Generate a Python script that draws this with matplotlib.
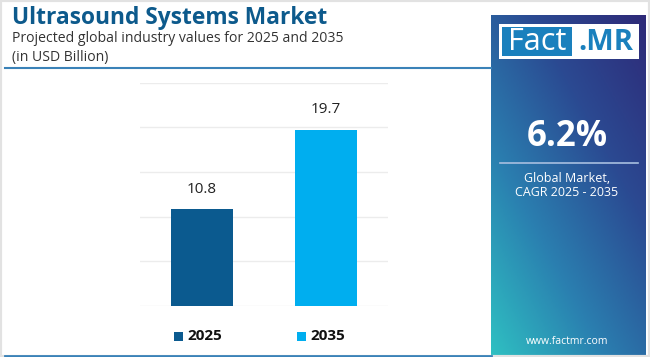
import matplotlib
matplotlib.use("Agg")
import matplotlib.pyplot as plt
import numpy as np
from matplotlib.colors import LinearSegmentedColormap
from matplotlib.patches import Rectangle

# ---- data ----
years = ["2025", "2035"]
values = [10.8, 19.7]
bar_colors = ["#0b5a8f", "#00aeef"]
yticks = [0, 5, 10, 15, 20, 25]
title = "Ultrasound Systems Market"
subtitle1 = "Projected global industry values for 2025 and 2035"
subtitle2 = "(in USD Billion)"
cagr = "6.2%"
cagr_label = ["Global Market,", "CAGR 2025 - 2035"]
website = "www.factmr.com"

W, H = 650, 357
fig = plt.figure(figsize=(W / 100, H / 100), dpi=100)
fig.patch.set_facecolor("white")
FONT = "Open Sans"

def fx(px):
    return px / W

def fy(py):
    return 1 - py / H

# outer light frame
fig.add_artist(Rectangle((0, 0), 1, 1, transform=fig.transFigure, fill=False,
                         edgecolor="#e2e2e2", linewidth=3))

# title
fig.text(fx(12), fy(18), title, fontsize=16.4, fontweight="bold", color="#0d5a8c",
         family=FONT, va="center", ha="left")
fig.text(fx(12), fy(38), subtitle1, fontsize=10.1, color="#333333", family=FONT,
         va="center", ha="left")
fig.text(fx(12), fy(57), subtitle2, fontsize=10.1, color="#333333", family=FONT,
         va="center", ha="left")
# title divider
fig.add_artist(plt.Line2D([fx(5), fx(491)], [fy(68), fy(68)], transform=fig.transFigure,
                          color="#3a82b8", linewidth=1.5))
# bottom line
fig.add_artist(plt.Line2D([fx(5), fx(491)], [fy(355.5), fy(355.5)], transform=fig.transFigure,
                          color="#3a82b8", linewidth=2))

# bar chart
ax = fig.add_axes([fx(140), fy(306), fx(388) - fx(140), fy(82.5) - fy(306)])
x = np.arange(len(years))
ax.bar(x, values, width=0.5, color=bar_colors, zorder=3)
ax.set_xlim(-0.5, 1.5)
ax.set_ylim(0, 25)
ax.set_yticks(yticks)
ax.yaxis.grid(True, color="#ececec", linewidth=1)
ax.set_axisbelow(True)
for s in ax.spines.values():
    s.set_visible(False)
ax.tick_params(left=False, bottom=False, labelleft=False, labelbottom=False)
for xi, v in zip(x, values):
    ax.annotate(f"{v}", (xi, v), xytext=(0, 9), textcoords="offset points",
                ha="center", va="bottom", fontsize=11, color="#222222", family=FONT)

# legend
leg_sq = [174, 297]
for xs, yr, c in zip(leg_sq, years, bar_colors):
    fig.add_artist(Rectangle((fx(xs), fy(341)), fx(9), 9 / H, transform=fig.transFigure,
                             facecolor=c, edgecolor="none"))
    fig.text(fx(xs + 13), fy(336), yr, fontsize=11, fontweight="bold", color="#111111",
             family=FONT, va="center", ha="left")

# gradient side panel
pax = fig.add_axes([fx(491), 0, fx(646) - fx(491), fy(15)])
ny, nx = 200, 100
yy, xx = np.mgrid[0:1:ny * 1j, 0:1:nx * 1j]
t = np.clip(0.55 * yy + 0.45 * xx, 0, 1)
cmap = LinearSegmentedColormap.from_list("g", ["#2fc0c2", "#2a7fb0", "#2b4a92", "#2e2a78"])
pax.imshow(t, cmap=cmap, origin="lower", extent=[0, 1, 0, 1], aspect="auto")
pax.set_xlim(0, 1)
pax.set_ylim(0, 1)
pax.axis("off")

# logo
fig.add_artist(Rectangle((fx(499), fy(59)), fx(140), 35 / H, transform=fig.transFigure,
                         facecolor="white", edgecolor="none"))
fig.add_artist(Rectangle((fx(502), fy(56)), fx(70), 29 / H, transform=fig.transFigure,
                         facecolor="#1a80bd", edgecolor="none"))
fig.text(fx(537), fy(42), "Fact", fontsize=22, color="white", family=FONT,
         va="center", ha="center")
fig.text(fx(606), fy(42), ".MR", fontsize=21, color="#1a80bd", fontweight="bold",
         family=FONT, va="center", ha="center")

# CAGR
fig.text(fx(567), fy(137), cagr, fontsize=25, fontweight="bold", color="white",
         family=FONT, va="center", ha="center")
fig.add_artist(plt.Line2D([fx(500), fx(638)], [fy(163), fy(163)], transform=fig.transFigure,
                          color="#a9bfe0", linewidth=1.2))
fig.text(fx(567), fy(179), cagr_label[0], fontsize=9, color="white", family=FONT,
         va="center", ha="center")
fig.text(fx(567), fy(193), cagr_label[1], fontsize=9, color="white", family=FONT,
         va="center", ha="center")
fig.text(fx(567), fy(341), website, fontsize=7.5, color="white", family=FONT,
         va="center", ha="center")

fig.savefig("out.png", dpi=100)
